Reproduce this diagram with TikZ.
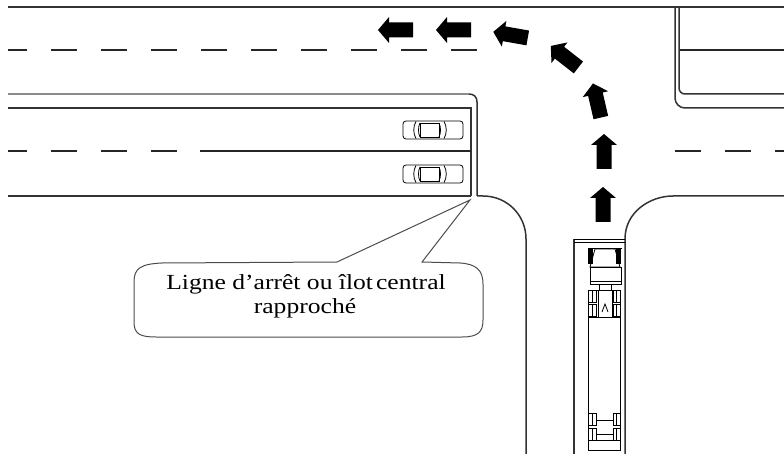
\documentclass[tikz,border=0pt]{standalone}
\usepackage{fontspec}
\setmainfont{Liberation Serif}
\begin{document}
\begin{tikzpicture}[x=1pt,y=-1pt,
  roadedge/.style={line width=1.5pt, draw=black!80},
  medianedge/.style={line width=2pt, draw=black!45},
  centreline/.style={line width=1.4pt, draw=black!85},
  lanedash/.style={dash pattern=on 26pt off 24pt, dash phase=7pt},
  thin part/.style={line width=0.8pt, draw=black},
  callout/.style={line width=1pt, draw=black!70, fill=white},
  label text/.style={font=\fontsize{21.5}{24}\selectfont, xscale=1.19, inner sep=0pt},
  turnarrow/.pic={\fill[black] (-17,-7.5) -- (7,-7.5) -- (7,-13) -- (18,0) -- (7,13) -- (7,7.5) -- (-17,7.5) -- cycle;},
  car/.pic={
    \draw[thin part, rounded corners=3pt] (0,0) rectangle (60,18);
    \draw[thin part] (17,2) rectangle (36,16);
    \draw[thin part] (13,0.5) .. controls (10,5) and (10,13) .. (13,17.5);
    \draw[thin part] (17,2) .. controls (15,6) and (15,12) .. (17,16);
    \draw[thin part] (36,2) .. controls (38,6) and (38,12) .. (36,16);
    \draw[thin part] (41,0.5) .. controls (44,5) and (44,13) .. (41,17.5);
  }]
\useasboundingbox (0,0) rectangle (784,454);

% upper road
\draw[roadedge] (8,7) -- (784,7);
\draw[centreline, lanedash] (8,50) -- (477,50);
\draw[centreline] (679,50) -- (784,50);

% left median and stop line
\draw[medianedge] (8,94) -- (469,94);
\draw[roadedge] (469,94) .. controls (474,94) and (477,97) .. (477,102) -- (477,196);
\draw[roadedge] (8,108) -- (471,108) -- (471,196);

% lower left road
\draw[roadedge] (8,196) -- (471,196);
\draw[centreline, lanedash] (8,151) -- (177,151);
\draw[centreline] (200,151) -- (471,151);

% left corner into the side road
\draw[roadedge] (477,196) -- (483,196) .. controls (507,196) and (526,215) .. (526,239) -- (526,454);

% right side median
\draw[roadedge, rounded corners=10pt] (675,7) -- (675,108) -- (784,108);
\draw[roadedge, rounded corners=6pt] (679,7) -- (679,94) -- (784,94);

% lower right road
\draw[roadedge] (784,196) -- (673,196) .. controls (650,196) and (625,212) .. (625,239) -- (625,454);
\draw[centreline, dash pattern=on 26pt off 24pt] (675,151) -- (784,151);

% side road lane line and stop line
\draw[roadedge] (574,239) -- (574,454);
\draw[thin part] (574,239) -- (625,239);
\draw[thin part] (574,242) -- (625,242);

% truck waiting at the stop line
\fill[black] (588,249) rectangle (593,264);
\fill[black] (616,249) rectangle (621,264);
\draw[thin part] (588,248) -- (622,248);
\draw[thin part] (595,249) -- (615,249) -- (620,267) -- (590,267) -- cycle;
\draw[thin part] (590,267) rectangle (621,281);
\draw[thin part] (590,281) rectangle (621,284);
\draw[thin part] (599,284) rectangle (611,290);
\draw[thin part] (588,290) rectangle (620,450);
\draw[thin part] (598,290) rectangle (612,317);
\draw[thin part] (602,312) -- (605,304) -- (608,312);
\foreach \wy in {290,304,413,428}{
  \draw[thin part] (588,\wy) rectangle (596,\wy+12);
  \draw[thin part] (592,\wy) -- (592,\wy+12);
  \draw[thin part] (613,\wy) rectangle (620,\wy+12);
  \draw[thin part] (616,\wy) -- (616,\wy+12);
}
\draw[thin part] (588,317) -- (620,317);
\draw[thin part] (596,420) -- (613,420);
\draw[thin part] (596,434) -- (613,434);
\draw[thin part] (588,440) -- (620,440);

% queued cars
\pic (carA) at (403,121) {car};
\pic (carB) at (403,165) {car};

% left-turn path
\pic[rotate=90] (t1) at (603,205) {turnarrow};
\pic[rotate=90] (t2) at (604,152) {turnarrow};
\pic[rotate=103] (t3) at (597,101) {turnarrow};
\pic[rotate=142] (t4) at (565,57) {turnarrow};
\pic[rotate=170] (t5) at (511,35) {turnarrow};
\pic[rotate=180] (t6) at (454,30) {turnarrow};
\pic[rotate=180] (t7) at (396,30) {turnarrow};

% callout
\coordinate (tip) at (470,200);
\draw[callout] (337,262) -- (162,263) .. controls (141,264) and (134,268) .. (134,282)
  -- (134,322) .. controls (134,334) and (140,337) .. (156,337)
  -- (462,337) .. controls (478,337) and (483,332) .. (483,320)
  -- (483,284) .. controls (483,270) and (476,264) .. (460,263)
  -- (422,262) -- (tip) -- cycle;
\node[label text, anchor=base] (line1) at (306,289) {Ligne d’arrêt ou îlot\hspace{0.12em}central};
\node[label text, anchor=base] (line2) at (305,313) {rapproché};
\end{tikzpicture}
\end{document}
